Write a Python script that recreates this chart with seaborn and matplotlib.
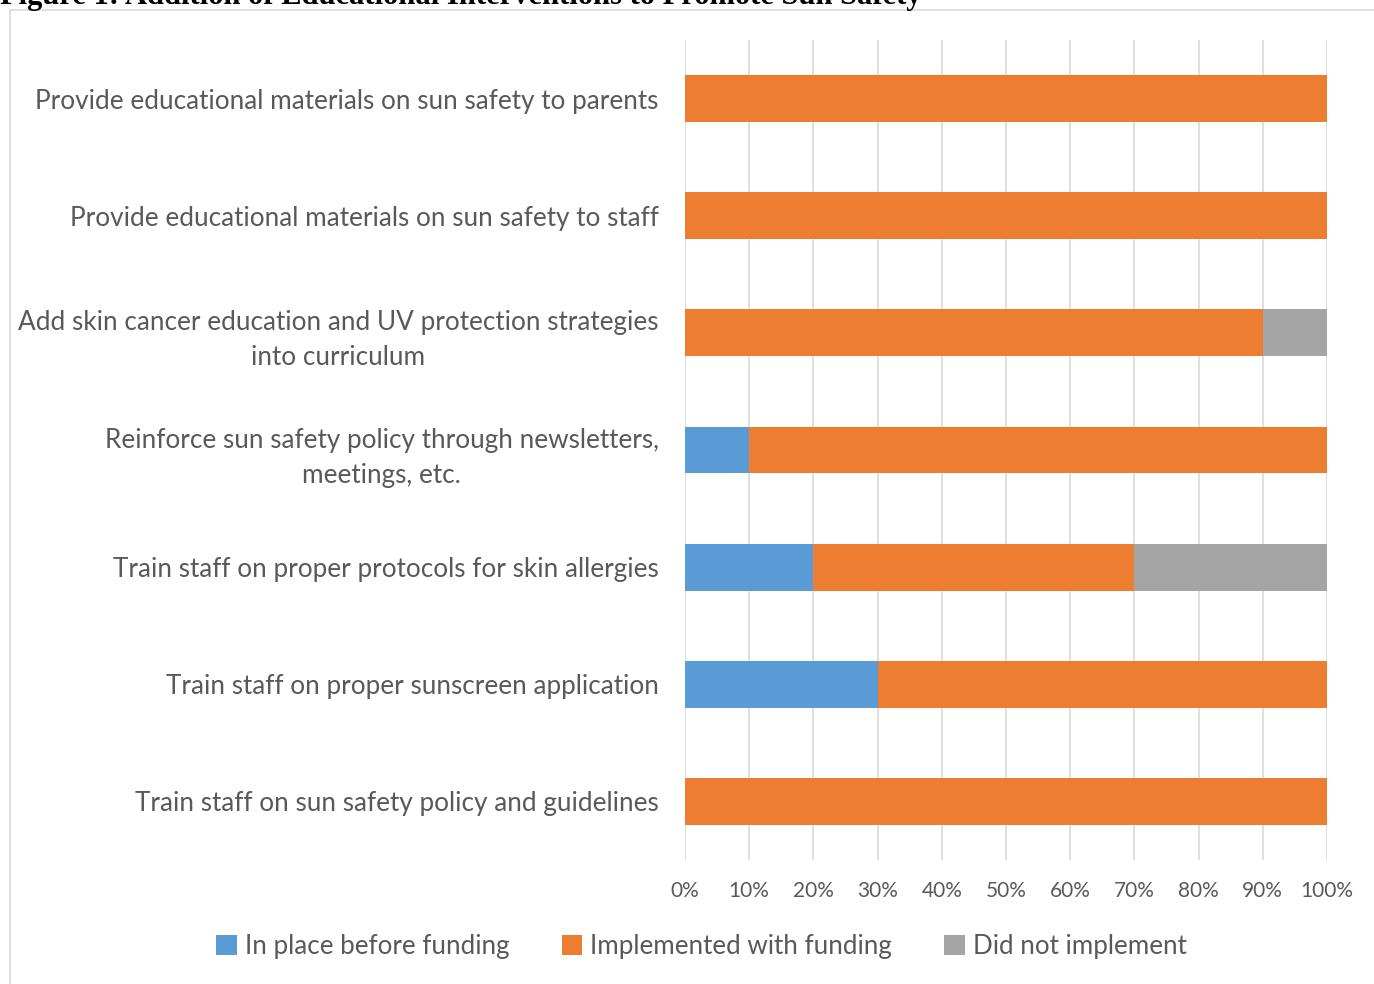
import matplotlib
matplotlib.use("Agg")
import matplotlib.pyplot as plt
import seaborn as sns
import pandas as pd
import numpy as np
from matplotlib.patches import Rectangle, Patch

categories = [
    "Provide educational materials on sun safety to parents",
    "Provide educational materials on sun safety to staff",
    "Add skin cancer education and UV protection strategies\ninto curriculum",
    "Reinforce sun safety policy through newsletters,\nmeetings, etc.",
    "Train staff on proper protocols for skin allergies",
    "Train staff on proper sunscreen application",
    "Train staff on sun safety policy and guidelines",
]
in_place = [0, 0, 0, 10, 20, 30, 0]
implemented = [100, 100, 90, 90, 50, 70, 100]
not_impl = [0, 0, 10, 0, 30, 0, 0]
series_names = ["In place before funding", "Implemented with funding", "Did not implement"]
colors = ["#5B9BD5", "#ED7D31", "#A5A5A5"]
xticks = [0, 10, 20, 30, 40, 50, 60, 70, 80, 90, 100]
title = "Figure 1: Addition of Educational Interventions to Promote Sun Safety"

sns.set_theme(style="white")
plt.rcParams['font.family'] = ['Lato', 'DejaVu Sans']
txt = "#595959"

df = pd.DataFrame({"cat": categories, "a": in_place, "b": implemented, "c": not_impl})
df["ab"] = df["a"] + df["b"]
df["abc"] = df["ab"] + df["c"]

fig = plt.figure(figsize=(13.74, 9.84), dpi=100)
ax = fig.add_axes([0.4985, 0.126, 0.9658 - 0.4985, 0.9593 - 0.126])

for col, c in zip(["abc", "ab", "a"], [colors[2], colors[1], colors[0]]):
    sns.barplot(data=df, y="cat", x=col, orient="h", color=c, width=0.4,
                saturation=1, ax=ax, order=categories, linewidth=0)

ax.set_xlim(0, 100)
ax.set_ylim(6.5, -0.5)
ax.set_xticks(xticks)
ax.set_xticklabels([f"{v}%" for v in xticks], color=txt, fontsize=15)
ax.tick_params(axis="x", length=0, pad=15)
ax.tick_params(axis="y", length=0, pad=19)
for lab in ax.get_yticklabels():
    lab.set_color(txt)
    lab.set_fontsize(18.8)
    lab.set_multialignment("center")
    lab.set_linespacing(1.5)
ax.set_xlabel("")
ax.set_ylabel("")
ax.grid(axis="x", color="#D9D9D9", linewidth=1.2)
ax.set_axisbelow(True)
for s in ax.spines.values():
    s.set_visible(False)

handles = [Patch(facecolor=c, edgecolor="none") for c in colors]
fig.legend(handles, series_names, loc="center", bbox_to_anchor=(0.5105, 0.038), ncol=3,
           frameon=False, fontsize=18.7, labelcolor=txt, handlelength=0.8, handleheight=0.8,
           handletextpad=0.3, columnspacing=2.0)

fig.patches.append(Rectangle((10 / 1374, -0.05), 1.1, 1 - 10 / 984 + 0.05, transform=fig.transFigure,
                             facecolor="none", edgecolor="#D9D9D9", linewidth=1.2))
fig.text(0.0, 1.004, title, fontsize=22, fontweight="bold", family=["Liberation Serif", "DejaVu Serif"],
         va="center", ha="left", color="black")

fig.savefig("out.png", dpi=100)
